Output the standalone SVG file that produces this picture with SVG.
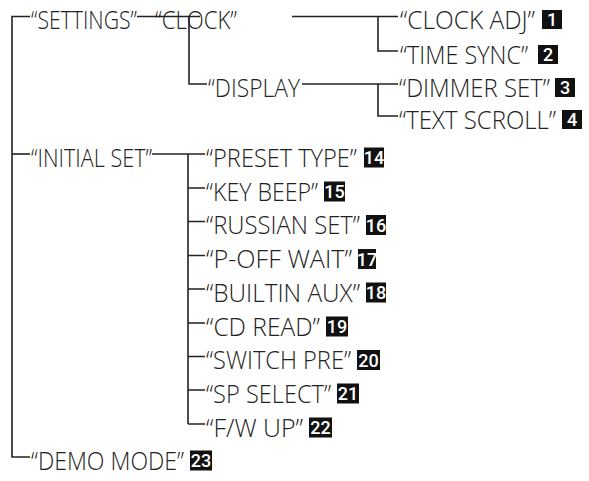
<svg xmlns="http://www.w3.org/2000/svg" width="589" height="481" viewBox="0 0 589 481">
<style>
.t{font-family:"Open Sans","Liberation Sans",sans-serif;font-weight:300;font-size:26px;fill:#222}
.b{fill:#111}
.n{font-family:"Roboto","Liberation Sans",sans-serif;font-weight:500;font-size:18px;fill:#fff;text-anchor:middle}
.c{fill:none;stroke:#222;stroke-width:1.6}
</style>
<rect width="589" height="481" fill="#fff"/>
<g id="connectors" class="c">
<path d="M30,16.5 H12 V457 H30"/>
<path d="M12,154 H30"/>
<path d="M137,16.5 H200"/>
<path d="M189,16.5 V84 H207"/>
<path d="M292,16.5 H398"/>
<path d="M378,16.5 V51 H398"/>
<path d="M302,84 H398"/>
<path d="M378,84 V116 H398"/>
<path d="M152,154 H205"/>
<path d="M188,154 V424"/>
<path d="M188,188 H205 M188,221.5 H205 M188,255.5 H205 M188,289 H205 M188,323 H205 M188,356.5 H205 M188,390 H205 M188,424 H205"/>
</g>
<g id="settings"><text class="t" transform="translate(31 29) scale(0.85 1)" textLength="124.7" lengthAdjust="spacingAndGlyphs">“SETTINGS”</text></g>
<g id="clock"><text class="t" transform="translate(155 29) scale(0.85 1)" textLength="96.5" lengthAdjust="spacingAndGlyphs">“CLOCK”</text></g>
<g id="display"><text class="t" transform="translate(208 96.5) scale(0.85 1)" textLength="108.2" lengthAdjust="spacingAndGlyphs">“DISPLAY</text></g>
<g id="clock-adj"><text class="t" transform="translate(400 29) scale(0.85 1)" textLength="158.8" lengthAdjust="spacingAndGlyphs">“CLOCK ADJ”</text><rect class="b" x="542" y="10" width="20" height="19"/><text class="n" x="552" y="26">1</text></g>
<g id="time-sync"><text class="t" transform="translate(400 63.5) scale(0.85 1)" textLength="150.6" lengthAdjust="spacingAndGlyphs">“TIME SYNC”</text><rect class="b" x="538" y="45" width="20" height="19"/><text class="n" x="548" y="61">2</text></g>
<g id="dimmer-set"><text class="t" transform="translate(399 96.5) scale(0.85 1)" textLength="177.6" lengthAdjust="spacingAndGlyphs">“DIMMER SET”</text><rect class="b" x="555" y="78" width="20" height="19"/><text class="n" x="565" y="94">3</text></g>
<g id="text-scroll"><text class="t" transform="translate(399 128.5) scale(0.85 1)" textLength="184.7" lengthAdjust="spacingAndGlyphs">“TEXT SCROLL”</text><rect class="b" x="562" y="110" width="20" height="19"/><text class="n" x="572" y="126">4</text></g>
<g id="initial-set"><text class="t" transform="translate(31 166.5) scale(0.85 1)" textLength="142.4" lengthAdjust="spacingAndGlyphs">“INITIAL SET”</text></g>
<g id="preset-type"><text class="t" transform="translate(206 166.5) scale(0.85 1)" textLength="177.6" lengthAdjust="spacingAndGlyphs">“PRESET TYPE”</text><rect class="b" x="364" y="147.5" width="20" height="20"/><text class="n" x="374" y="164">14</text></g>
<g id="key-beep"><text class="t" transform="translate(206 200.5) scale(0.85 1)" textLength="131.8" lengthAdjust="spacingAndGlyphs">“KEY BEEP”</text><rect class="b" x="324" y="181.5" width="21" height="20"/><text class="n" x="334.5" y="198">15</text></g>
<g id="russian-set"><text class="t" transform="translate(206 234) scale(0.85 1)" textLength="181.2" lengthAdjust="spacingAndGlyphs">“RUSSIAN SET”</text><rect class="b" x="366" y="215" width="20" height="20"/><text class="n" x="376" y="231.5">16</text></g>
<g id="p-off-wait"><text class="t" transform="translate(206 268) scale(0.85 1)" textLength="171.8" lengthAdjust="spacingAndGlyphs">“P-OFF WAIT”</text><rect class="b" x="358" y="249" width="18" height="20"/><text class="n" x="367" y="265.5">17</text></g>
<g id="builtin-aux"><text class="t" transform="translate(206 301.5) scale(0.85 1)" textLength="181.2" lengthAdjust="spacingAndGlyphs">“BUILTIN AUX”</text><rect class="b" x="366" y="282.5" width="20" height="20"/><text class="n" x="376" y="299">18</text></g>
<g id="cd-read"><text class="t" transform="translate(206 335.5) scale(0.85 1)" textLength="134.1" lengthAdjust="spacingAndGlyphs">“CD READ”</text><rect class="b" x="326" y="316.5" width="22" height="20"/><text class="n" x="337" y="333">19</text></g>
<g id="switch-pre"><text class="t" transform="translate(206 369) scale(0.85 1)" textLength="170.6" lengthAdjust="spacingAndGlyphs">“SWITCH PRE”</text><rect class="b" x="357" y="350" width="23" height="20"/><text class="n" x="368.5" y="366.5">20</text></g>
<g id="sp-select"><text class="t" transform="translate(206 402.5) scale(0.85 1)" textLength="147.1" lengthAdjust="spacingAndGlyphs">“SP SELECT”</text><rect class="b" x="337" y="383.5" width="22" height="20"/><text class="n" x="348" y="400">21</text></g>
<g id="fw-up"><text class="t" transform="translate(206 436.5) scale(0.85 1)" textLength="114.1" lengthAdjust="spacingAndGlyphs">“F/W UP”</text><rect class="b" x="309" y="417.5" width="23" height="20"/><text class="n" x="320.5" y="434">22</text></g>
<g id="demo-mode"><text class="t" transform="translate(31 469.5) scale(0.85 1)" textLength="180" lengthAdjust="spacingAndGlyphs">“DEMO MODE”</text><rect class="b" x="190" y="450.5" width="22" height="20"/><text class="n" x="201" y="467">23</text></g>
</svg>
